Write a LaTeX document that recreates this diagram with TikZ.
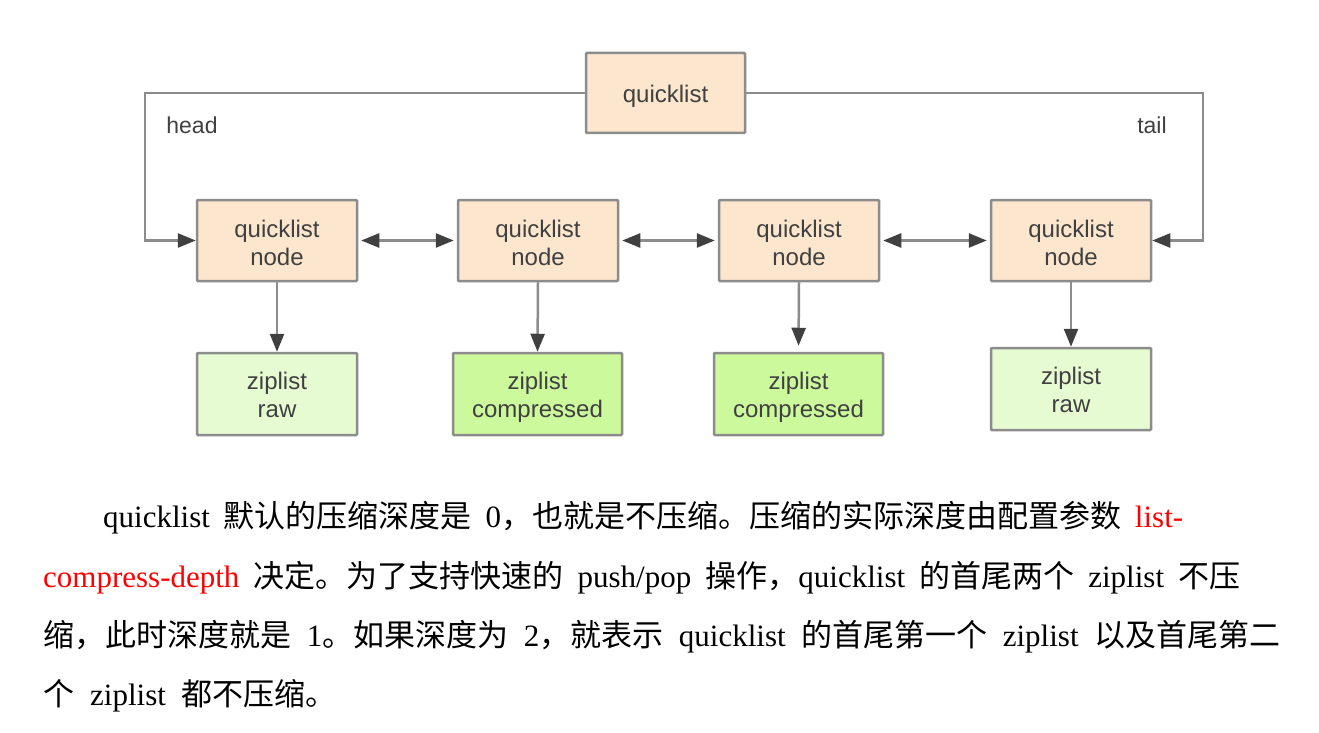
\documentclass[tikz,border=0pt]{standalone}
\usepackage{fontspec}
\setmainfont{Liberation Serif}
\newfontfamily\boxfont{Liberation Sans}
\newfontfamily\cjk{Noto Sans CJK SC}
\usetikzlibrary{arrows.meta}
\definecolor{peach}{HTML}{FDE6CE}
\definecolor{rawg}{HTML}{E7FBD3}
\definecolor{compg}{HTML}{CDF99D}
\definecolor{edgec}{HTML}{8C8C8C}
\definecolor{ink}{HTML}{404040}
\newcommand\zh[1]{{\cjk #1}}
\newcommand\bodyline[2]{\makebox[#1][s]{#2}}
% two centred lines, first baseline placed (#1-#2)/2 above the box centre
\newcommand\twoline[4]{\raisebox{0pt}[#1][#2]{\begin{tabular}[t]{@{}c@{}}#3\\#4\end{tabular}}}
\begin{document}
\begin{tikzpicture}[x=1pt,y=-1pt,
  box/.style={draw=edgec, line width=2.5pt, rounded corners=1pt, inner sep=0pt,
    align=center, text=ink, font=\boxfont\fontsize{24}{28}\selectfont},
  qnode/.style={box, fill=peach, minimum width=160pt, minimum height=81pt},
  zraw/.style={box, fill=rawg, minimum width=160pt, minimum height=82pt},
  zcomp/.style={box, fill=compg, minimum width=169pt, minimum height=82pt},
  conn/.style={draw=edgec, line width=2.5pt, -{Triangle[length=18pt,width=14pt,fill=ink,color=ink]}},
  dbl/.style={draw=edgec, line width=2.5pt, {Triangle[length=18pt,width=14pt,fill=ink,color=ink]}-{Triangle[length=18pt,width=14pt,fill=ink,color=ink]}, shorten <=3pt, shorten >=3pt},
  lbl/.style={text=ink, font=\boxfont\fontsize{23}{28}\selectfont, inner sep=0pt},
  para/.style={anchor=base west, inner sep=0pt, font=\fontsize{31}{31}\selectfont}
]
\useasboundingbox (0,0) rectangle (1319,733);
\fill[white] (0,0) rectangle (1319,733);

\node[qnode, minimum width=159pt, minimum height=80pt] (ql) at (665.5,93) {\raisebox{0pt}[20pt][0pt]{quicklist}};
\node[qnode] (n1) at (277,240.5) {\twoline{10pt}{17pt}{quicklist}{node}};
\node[qnode] (n2) at (538,240.5) {\twoline{10pt}{17pt}{quicklist}{node}};
\node[qnode] (n3) at (799,240.5) {\twoline{10pt}{17pt}{quicklist}{node}};
\node[qnode] (n4) at (1071,240.5) {\twoline{10pt}{17pt}{quicklist}{node}};

\node[zraw] (z1) at (277,394) {\twoline{10pt}{20pt}{ziplist}{raw}};
\node[zcomp] (z2) at (537.5,394) {\twoline{10pt}{20pt}{ziplist}{compressed}};
\node[zcomp] (z3) at (798.5,394) {\twoline{10pt}{20pt}{ziplist}{compressed}};
\node[zraw] (z4) at (1071,389) {\twoline{10pt}{20pt}{ziplist}{raw}};

\coordinate (hl) at (145,93);
\coordinate (tr) at (1203,93);
\draw[conn] (ql.west) -- (hl) |- (n1.west);
\draw[conn] (ql.east) -- (tr) |- (n4.east);
\node[lbl] (head) at (192,125) {head};
\node[lbl] (tail) at (1152,125) {tail};

\draw[dbl] (n1.east) -- (n2.west);
\draw[dbl] (n2.east) -- (n3.west);
\draw[dbl] (n3.east) -- (n4.west);

\draw[conn] (n1.south) -- (z1.north);
\draw[conn] (n2.south) -- (z2.north);
\draw[conn, shorten >=6pt] (n3.south) -- (z3.north);
\draw[conn] (n4.south) -- (z4.north);

\node[para] (l1) at (103,527) {\bodyline{1080pt}{quicklist \zh{默认的压缩深度是} 0\zh{，也就是不压缩。压缩的实际深度由配置参数} \textcolor{red}{list-}}};
\node[para] (l2) at (43,587) {\bodyline{1197pt}{\textcolor{red}{compress-depth} \zh{决定。为了支持快速的} push/pop \zh{操作，}quicklist \zh{的首尾两个} ziplist \zh{不压}}};
\node[para] (l3) at (43,646) {\bodyline{1237pt}{\zh{缩，此时深度就是} 1\zh{。如果深度为} 2\zh{，就表示} quicklist \zh{的首尾第一个} ziplist \zh{以及首尾第二}}};
\node[para] (l4) at (43,705) {\zh{个}\hspace{16pt}ziplist\hspace{16pt}\zh{都不压缩。}};
\end{tikzpicture}
\end{document}
